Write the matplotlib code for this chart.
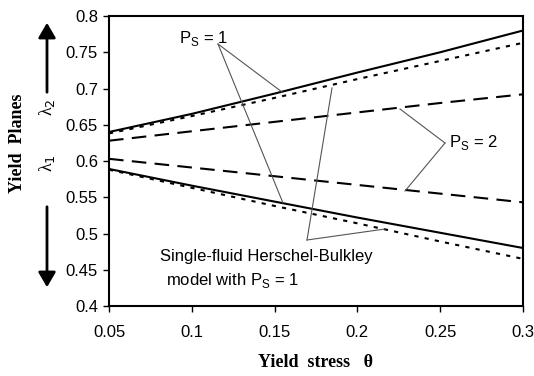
import matplotlib
matplotlib.use("Agg")
import matplotlib.pyplot as plt

theta = [0.05, 0.1, 0.15, 0.2, 0.25, 0.3]
ps1_upper = [0.640, 0.665, 0.693, 0.722, 0.750, 0.780]
hb_upper = [0.638, 0.662, 0.687, 0.713, 0.738, 0.763]
ps2_upper = [0.628, 0.641, 0.654, 0.667, 0.680, 0.692]
ps2_lower = [0.603, 0.591, 0.579, 0.567, 0.555, 0.543]
ps1_lower = [0.589, 0.566, 0.544, 0.522, 0.501, 0.480]
hb_lower = [0.588, 0.563, 0.538, 0.514, 0.489, 0.465]

xticks = [0.05, 0.1, 0.15, 0.2, 0.25, 0.3]
xticklabels = ["0.05", "0.1", "0.15", "0.2", "0.25", "0.3"]
yticks = [0.4, 0.45, 0.5, 0.55, 0.6, 0.65, 0.7, 0.75, 0.8]
yticklabels = ["0.4", "0.45", "0.5", "0.55", "0.6", "0.65", "0.7", "0.75", "0.8"]

plt.rcParams['font.family'] = ['Liberation Sans', 'DejaVu Sans']

fig = plt.figure(figsize=(5.34, 3.76), dpi=100)
W, H = 534, 376
ax = fig.add_axes([109 / W, 1 - 306 / H, (523 - 109) / W, (306 - 16) / H])

ax.plot(theta, ps1_upper, color='black', lw=1.5, ls='-')
ax.plot(theta, hb_upper, color='black', lw=1.5, ls=(0, (2, 3)))
ax.plot(theta, ps2_upper, color='black', lw=1.5, ls=(0, (7, 4)))
ax.plot(theta, ps2_lower, color='black', lw=1.5, ls=(0, (7, 4)))
ax.plot(theta, ps1_lower, color='black', lw=1.5, ls='-')
ax.plot(theta, hb_lower, color='black', lw=1.5, ls=(0, (2, 3)))

ax.set_xlim(0.05, 0.3)
ax.set_ylim(0.4, 0.8)
ax.set_xticks(xticks)
ax.set_xticklabels(xticklabels)
ax.set_yticks(yticks)
ax.set_yticklabels(yticklabels)
ax.tick_params(direction='out', length=4, width=1, labelsize=12, colors='black', pad=4)
ax.tick_params(axis='x', pad=10)
for s in ax.spines.values():
    s.set_linewidth(1.5)

ax.set_xlabel("Yield  stress   θ", family='Liberation Serif', fontweight='bold', fontsize=13, labelpad=10)

def d2a(px, py):
    # pixel (from top-left) -> data
    x = 0.05 + (px - 109) / (523 - 109) * 0.25
    y = 0.4 + (306 - py) / (306 - 16) * 0.4
    return x, y

gray = '#555555'
# P_S = 1 annotation
ax.text(*d2a(179, 38), "P$_\\mathregular{S}$ = 1", fontsize=12, va='center', ha='left')
for tgt in [(282, 92), (283, 203)]:
    x0, y0 = d2a(218, 44)
    x1, y1 = d2a(*tgt)
    ax.plot([x0, x1], [y0, y1], color=gray, lw=0.8)

# P_S = 2 annotation
ax.text(*d2a(449, 143), "P$_\\mathregular{S}$ = 2", fontsize=12, va='center', ha='left')
for tgt in [(400, 109), (405, 191)]:
    x0, y0 = d2a(445, 143)
    x1, y1 = d2a(*tgt)
    ax.plot([x0, x1], [y0, y1], color=gray, lw=0.8)

# Herschel-Bulkley annotation
ax.text(*d2a(160, 257), "Single-fluid Herschel-Bulkley", fontsize=12, va='center', ha='left')
ax.text(*d2a(166, 281), "model with P$_\\mathregular{S}$ = 1", fontsize=12, va='center', ha='left')
for tgt in [(332, 88), (385, 229)]:
    x0, y0 = d2a(307, 240)
    x1, y1 = d2a(*tgt)
    ax.plot([x0, x1], [y0, y1], color=gray, lw=0.8)

# y-axis label area
fig.text(18 / W, 1 - 143 / H, "Yield  Planes", family='Liberation Serif', fontweight='bold',
         fontsize=13, rotation=90, ha='center', va='center')
fig.text(47 / W, 1 - 107 / H, "λ$_2$", family='Liberation Serif', fontsize=13,
         rotation=90, ha='center', va='center')
fig.text(47 / W, 1 - 163 / H, "λ$_1$", family='Liberation Serif', fontsize=13,
         rotation=90, ha='center', va='center')
fig.patches.append(matplotlib.patches.FancyArrowPatch((47 / W, 1 - 95 / H), (47 / W, 1 - 20 / H),
                   transform=fig.transFigure, arrowstyle='-|>,head_length=6,head_width=3.5',
                   color='black', lw=2, mutation_scale=1.5))
fig.patches.append(matplotlib.patches.FancyArrowPatch((47 / W, 1 - 204 / H), (47 / W, 1 - 290 / H),
                   transform=fig.transFigure, arrowstyle='-|>,head_length=6,head_width=3.5',
                   color='black', lw=2, mutation_scale=1.5))

fig.savefig("out.png", dpi=100)
